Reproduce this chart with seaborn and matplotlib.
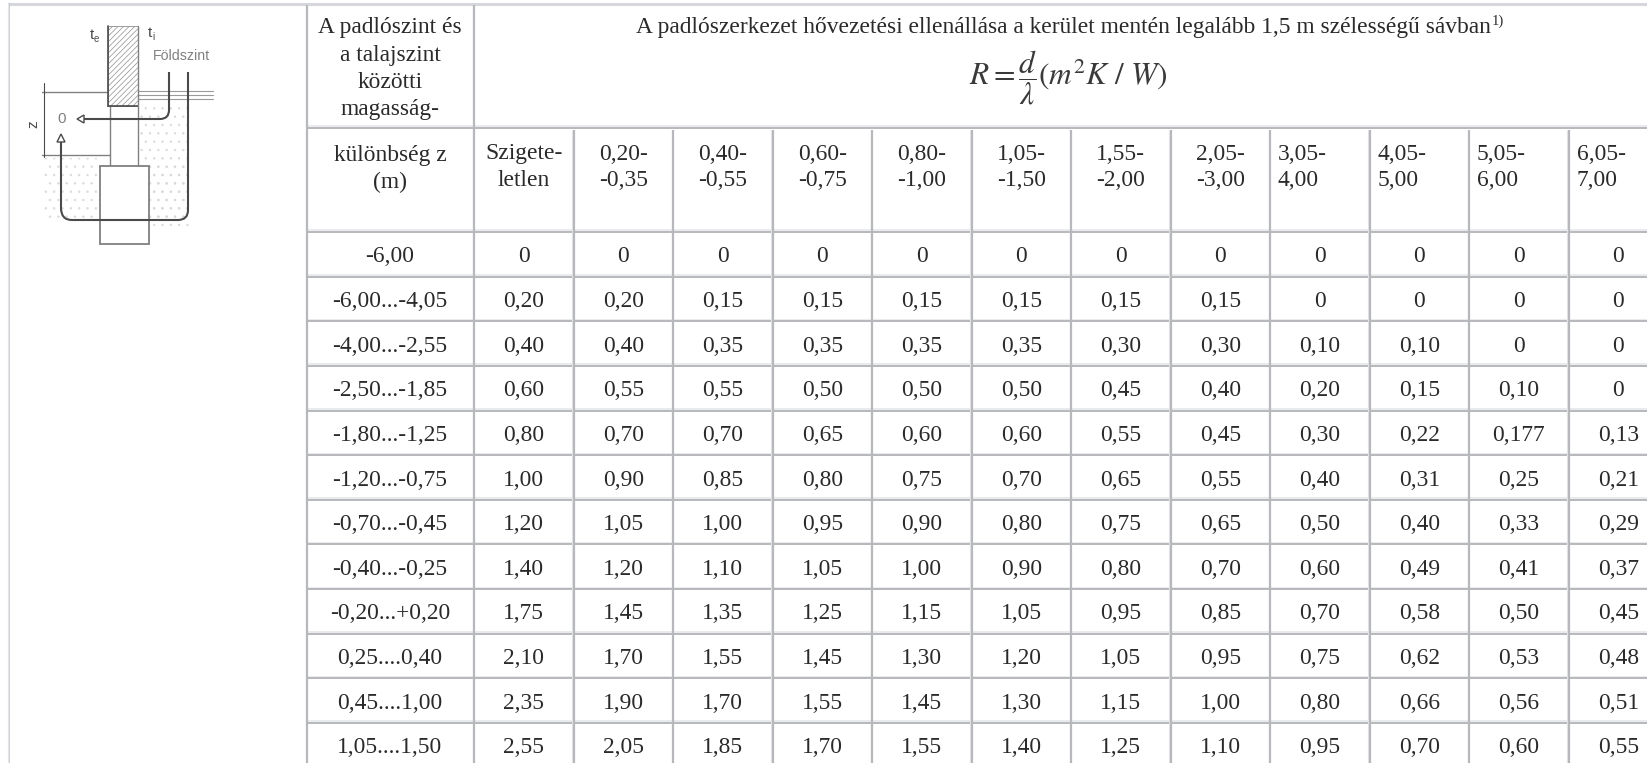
import numpy as np
import pandas as pd
import matplotlib
matplotlib.use("Agg")
import matplotlib.pyplot as plt
from matplotlib.colors import ListedColormap
from matplotlib.patches import Rectangle, Polygon
from matplotlib.path import Path
from matplotlib.patches import PathPatch
import seaborn as sns

# table content
row_labels = ["-6,00", "-6,00...-4,05", "-4,00...-2,55", "-2,50...-1,85", "-1,80...-1,25", "-1,20...-0,75",
              "-0,70...-0,45", "-0,40...-0,25", "-0,20...+0,20", "0,25....0,40", "0,45....1,00", "1,05....1,50"]
col_labels = ["Szigete-\nletlen", "0,20-\n-0,35", "0,40-\n-0,55", "0,60-\n-0,75", "0,80-\n-1,00", "1,05-\n-1,50",
              "1,55-\n-2,00", "2,05-\n-3,00", "3,05-\n4,00", "4,05-\n5,00", "5,05-\n6,00", "6,05-\n7,00"]
row_01 = ["0", "0", "0", "0", "0", "0", "0", "0", "0", "0", "0", "0"]
row_02 = ["0,20", "0,20", "0,15", "0,15", "0,15", "0,15", "0,15", "0,15", "0", "0", "0", "0"]
row_03 = ["0,40", "0,40", "0,35", "0,35", "0,35", "0,35", "0,30", "0,30", "0,10", "0,10", "0", "0"]
row_04 = ["0,60", "0,55", "0,55", "0,50", "0,50", "0,50", "0,45", "0,40", "0,20", "0,15", "0,10", "0"]
row_05 = ["0,80", "0,70", "0,70", "0,65", "0,60", "0,60", "0,55", "0,45", "0,30", "0,22", "0,177", "0,13"]
row_06 = ["1,00", "0,90", "0,85", "0,80", "0,75", "0,70", "0,65", "0,55", "0,40", "0,31", "0,25", "0,21"]
row_07 = ["1,20", "1,05", "1,00", "0,95", "0,90", "0,80", "0,75", "0,65", "0,50", "0,40", "0,33", "0,29"]
row_08 = ["1,40", "1,20", "1,10", "1,05", "1,00", "0,90", "0,80", "0,70", "0,60", "0,49", "0,41", "0,37"]
row_09 = ["1,75", "1,45", "1,35", "1,25", "1,15", "1,05", "0,95", "0,85", "0,70", "0,58", "0,50", "0,45"]
row_10 = ["2,10", "1,70", "1,55", "1,45", "1,30", "1,20", "1,05", "0,95", "0,75", "0,62", "0,53", "0,48"]
row_11 = ["2,35", "1,90", "1,70", "1,55", "1,45", "1,30", "1,15", "1,00", "0,80", "0,66", "0,56", "0,51"]
row_12 = ["2,55", "2,05", "1,85", "1,70", "1,55", "1,40", "1,25", "1,10", "0,95", "0,70", "0,60", "0,55"]

W, H = 1647, 763
SERIF = "Liberation Serif"
INK = "#2a2a2a"
DARK = "#b7b8bc"
LIGHT = "#e6e7ea"
FS = 16.9

sns.set_theme(style="white")
plt.rcParams["font.family"] = [SERIF, "DejaVu Sans"]
plt.rcParams["mathtext.fontset"] = "stix"
plt.rcParams["hatch.linewidth"] = 0.5

labels = np.array([row_01, row_02, row_03, row_04, row_05, row_06,
                   row_07, row_08, row_09, row_10, row_11, row_12])
table = pd.DataFrame(labels, index=row_labels, columns=col_labels)
values = table.apply(lambda c: c.str.replace(",", ".").astype(float))

fig = plt.figure(figsize=(W / 100, H / 100), dpi=100, facecolor="white")

# body of the table, runs a little past the right and bottom edge like the original
BODY_L, BODY_R, BODY_T, BODY_B = 474, 1668, 232, 767.7
ax = fig.add_axes([BODY_L / W, 1 - BODY_B / H, (BODY_R - BODY_L) / W, (BODY_B - BODY_T) / H])
sns.heatmap(values, ax=ax, cmap=ListedColormap(["white"]), cbar=False, annot=labels, fmt="",
            annot_kws={"size": FS, "color": INK, "family": SERIF, "va": "center_baseline"},
            xticklabels=False, yticklabels=True)
ax.tick_params(axis="y", length=0, pad=(BODY_L - 390) * 0.72)
for t in ax.get_yticklabels():
    t.set_rotation(0)
    t.set_ha("center")
    t.set_va("center_baseline")
    t.set_fontsize(FS)
    t.set_color(INK)
ax.set_xlabel("")
ax.set_ylabel("")

# overlay in pixel coordinates for rules, header cells and the sketch
ov = fig.add_axes([0, 0, 1, 1], facecolor="none")
ov.set_xlim(0, W)
ov.set_ylim(H, 0)
ov.axis("off")


def hrule(y, x0, x1):
    ov.plot([x0, x1], [y - 1.6, y - 1.6], color=LIGHT, lw=1.2, solid_capstyle="butt")
    ov.plot([x0, x1], [y, y], color=DARK, lw=1.4, solid_capstyle="butt")


def vrule(x, y0, y1):
    ov.plot([x - 1.4, x - 1.4], [y0, y1], color=LIGHT, lw=0.8, solid_capstyle="butt")
    ov.plot([x, x], [y0, y1], color=DARK, lw=1.6, solid_capstyle="butt")


ov.plot([8, W], [3.5, 3.5], color="#d6d7da", lw=2.2, solid_capstyle="butt")
ov.plot([8.5, 8.5], [3, H], color="#c4c5c8", lw=1.2, solid_capstyle="butt")
ov.plot([7.5, 7.5], [3, H], color="#e6e7e9", lw=0.8, solid_capstyle="butt")

col_edges = np.linspace(BODY_L, BODY_R, len(col_labels) + 1)
row_edges = np.linspace(BODY_T, BODY_B, len(row_labels) + 1)
hrule(128, 307, W)
for y in row_edges[:-1]:
    hrule(y, 307, W)
vrule(307, 5, H)
vrule(BODY_L, 5, H)
for x in col_edges[1:-1]:
    vrule(x, 130, H)

# header cells
for y, s in zip([28, 55, 82, 110], ["A padlószint és", "a talajszint", "közötti", "magasság-"]):
    ov.text(390, y, s, ha="center", va="center", fontsize=FS, color=INK)
for y, s in zip([155, 182], ["különbség z", "(m)"]):
    ov.text(390, y, s, ha="center", va="center", fontsize=FS, color=INK)
ov.text(1063, 28, "A padlószerkezet hővezetési ellenállása a kerület mentén legalább 1,5 m szélességű sávban",
        ha="center", va="center", fontsize=FS, color=INK)
ov.text(1492, 21, "1)", ha="left", va="center", fontsize=10.5, color=INK)
ov.text(1068, 78, r"$R=\dfrac{d}{\lambda}(m^{2}K\ /\ W)$", ha="center", va="center", fontsize=22.5, color="#3a3a3a")

for i, s in enumerate(col_labels):
    first, second = s.split("\n")
    if i < 8:
        x = (col_edges[i] + col_edges[i + 1]) / 2
        ha = "center"
    else:
        x = col_edges[i] + 8
        ha = "left"
    ov.text(x, 154, first, ha=ha, va="center", fontsize=FS, color=INK)
    ov.text(x, 181, second, ha=ha, va="center", fontsize=FS, color=INK)

# sketch of the wall and footing
LINE = "#4a4a4a"
SOFT = "#808080"
for (x0, y0, w, h) in [(139, 104, 49, 118), (44, 158, 56, 62), (149, 166, 40, 60)]:
    ov.add_patch(Rectangle((x0, y0), w, h, fc="none", ec="#dadada", hatch="..", lw=0))
ov.add_patch(Rectangle((110, 106), 28, 60, fc="white", ec="none", zorder=2))
ov.add_patch(Rectangle((108, 26), 30, 80, fc="white", ec="#8f8f8f", hatch="//////", lw=0.6, zorder=3))
ov.add_patch(Rectangle((100, 166), 49, 78, fc="white", ec=SOFT, lw=1.3, zorder=3))
ov.plot([107.5, 107.5], [26, 106], color=LINE, lw=1.2, zorder=4)
ov.plot([107.5, 138], [106, 106], color=LINE, lw=1.2, zorder=4)
ov.plot([138, 138], [26, 166], color=SOFT, lw=1, zorder=4)
ov.plot([110, 110], [106, 166], color=SOFT, lw=1, zorder=2)
for y in [91, 95, 99]:
    ov.plot([138, 213], [y, y], color="#9a9a9a", lw=0.8)
ov.plot([42, 107], [92, 92], color=SOFT, lw=1)
ov.plot([42, 110], [155, 155], color=SOFT, lw=1)
ov.plot([44, 44], [83, 157], color=LINE, lw=0.8)
# the two heat flow lines, rounded at the corners
flow_1 = Path([(169, 72), (169, 110), (169, 119), (160, 119), (84, 119)],
              [Path.MOVETO, Path.LINETO, Path.CURVE3, Path.CURVE3, Path.LINETO])
flow_2 = Path([(188, 72), (188, 210), (188, 220), (178, 220), (72, 220), (61, 220), (61, 208), (61, 142)],
              [Path.MOVETO, Path.LINETO, Path.CURVE3, Path.CURVE3, Path.LINETO, Path.CURVE3, Path.CURVE3, Path.LINETO])
for flow in (flow_1, flow_2):
    ov.add_patch(PathPatch(flow, fc="none", ec=LINE, lw=1.5, zorder=5))
ov.add_patch(Polygon([[84, 115], [84, 123], [77, 119]], fc="white", ec=LINE, lw=1, zorder=5))
ov.add_patch(Polygon([[57, 142], [65, 142], [61, 134]], fc="white", ec=LINE, lw=1, zorder=5))
ov.text(62, 119, "0", ha="center", va="center", fontsize=11, color=SOFT, family="Liberation Sans")
ov.text(33, 124, "z", ha="center", va="center", fontsize=11, color=LINE, rotation=90, family="Liberation Sans")
ov.text(92, 35, "t", ha="center", va="center", fontsize=11, color=LINE, family="Liberation Sans")
ov.text(96, 39, "e", ha="center", va="center", fontsize=7, color=LINE, family="Liberation Sans")
ov.text(150, 33, "t", ha="center", va="center", fontsize=11, color=LINE, family="Liberation Sans")
ov.text(153, 37, "i", ha="center", va="center", fontsize=7, color=LINE, family="Liberation Sans")
ov.text(153, 56, "Földszint", ha="left", va="center", fontsize=10.2, color=SOFT, family="Liberation Sans")

fig.savefig("out.png", dpi=100)
